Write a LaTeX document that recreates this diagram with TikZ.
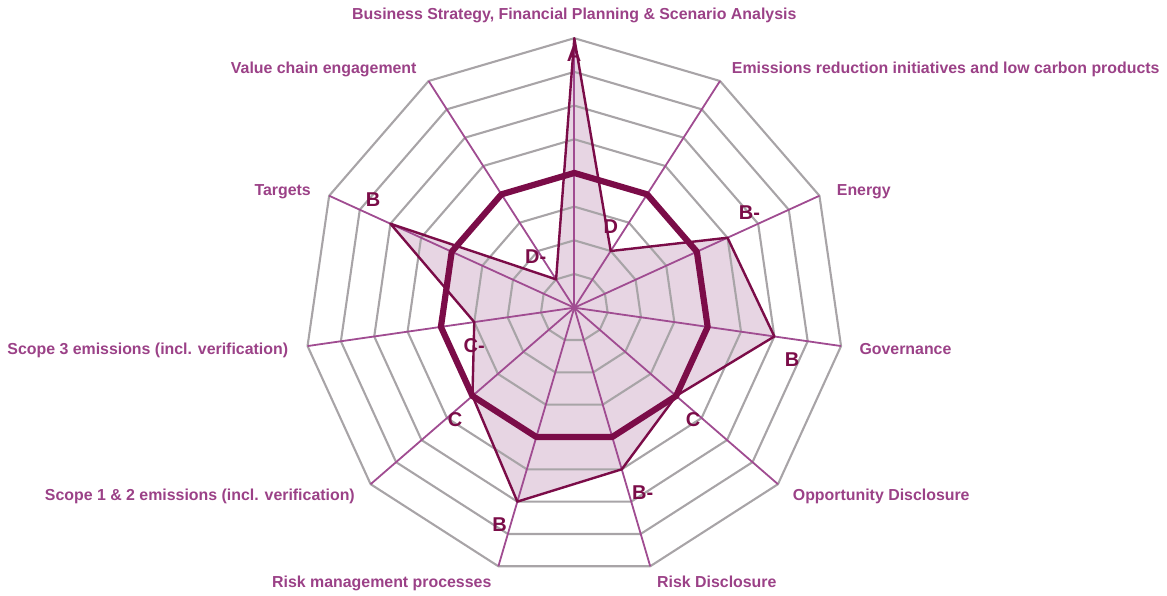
\documentclass[tikz,border=0pt]{standalone}
\usepackage{fontspec}
\setmainfont{Liberation Sans}
\usetikzlibrary{calc}
\definecolor{ringgray}{RGB}{168,164,167}
\definecolor{axiscol}{RGB}{160,76,145}
\definecolor{labelcol}{RGB}{155,65,135}
\definecolor{maroon}{RGB}{123,12,72}
\definecolor{fillpink}{RGB}{231,213,227}
\begin{document}
\begin{tikzpicture}[x=1pt,y=1pt,
  ring/.style={draw=ringgray, line width=2.1pt, line join=round},
  spoke/.style={draw=axiscol, line width=1.8pt},
  series/.style={draw=maroon, line width=2.4pt, line join=round},
  seriesfill/.style={fill=fillpink},
  bench/.style={draw=maroon, line width=6.2pt, line join=round},
  axlabel/.style={text=labelcol, font=\bfseries\fontsize{15.9}{18}\selectfont, inner sep=0pt},
  grade/.style={text=maroon, font=\bfseries\fontsize{20}{22}\selectfont, inner sep=0pt, anchor=base}]

\useasboundingbox (-574.3,-287.3) rectangle (592.7,307.7);
\def\R{269.5}
\coordinate (c) at (0,0);
\foreach \i in {0,...,10} \coordinate (o\i) at ({90-\i*360/11}:\R);
\foreach \v [count=\i from 0] in {8,2,5,6,4,5,6,4,3,6,1}
  \coordinate (p\i) at ({90-\i*360/11}:{\v*\R/8});

% filled series area
\fill[seriesfill] (p0) -- (p1) -- (p2) -- (p3) -- (p4) -- (p5) -- (p6) -- (p7) -- (p8) -- (p9) -- (p10) -- cycle;

% grid rings
\foreach \k in {1,...,8}
  \draw[ring] (90:{\k*\R/8}) \foreach \i in {1,...,10}{ -- ({90-\i*360/11}:{\k*\R/8}) } -- cycle;

% spokes
\foreach \i in {0,...,10} \draw[spoke] (c) -- (o\i);

% series outline
\draw[series] (p0) -- (p1) -- (p2) -- (p3) -- (p4) -- (p5) -- (p6) -- (p7) -- (p8) -- (p9) -- (p10) -- cycle;

% benchmark ring (level C)
\draw[bench] (90:{4*\R/8}) \foreach \i in {1,...,10}{ -- ({90-\i*360/11}:{4*\R/8}) } -- cycle;

% grade labels
\node[grade] (g0) at (-0.3,246.3) {A};
\node[grade] (g1) at (36.5,73.9) {D};
\node[grade] (g2) at (175.2,87.9) {B-};
\node[grade] (g3) at (217.7,-58.8) {B};
\node[grade] (g4) at (118.7,-118.8) {C};
\node[grade] (g5) at (68.4,-192.1) {B-};
\node[grade] (g6) at (-74.6,-223.8) {B};
\node[grade] (g7) at (-119.3,-118.8) {C};
\node[grade] (g8) at (-100.1,-44.8) {C-};
\node[grade] (g9) at (-201.3,101.2) {B};
\node[grade] (g10) at (-38.5,44.6) {D-};

% axis labels
\node[axlabel, anchor=base] (l0) at (0,288.5) {Business Strategy, Financial Planning \& Scenario Analysis};
\node[axlabel, anchor=base west] (l1) at (157.4,233.7) {Emissions reduction initiatives and low carbon products};
\node[axlabel, anchor=base west] (l2) at (262.4,112) {Energy};
\node[axlabel, anchor=base west] (l3) at (285,-46.3) {Governance};
\node[axlabel, anchor=base west] (l4) at (218.4,-192.8) {Opportunity Disclosure};
\node[axlabel, anchor=base west] (l5) at (82.7,-279.3) {Risk Disclosure};
\node[axlabel, anchor=base east] (l6) at (-82.7,-279.3) {Risk management processes};
\node[axlabel, anchor=base east] (l7) at (-219.3,-192.8) {Scope 1 \& 2 emissions (incl. verification)};
\node[axlabel, anchor=base east] (l8) at (-286,-46.3) {Scope 3 emissions (incl. verification)};
\node[axlabel, anchor=base east] (l9) at (-263.3,112) {Targets};
\node[axlabel, anchor=base east] (l10) at (-157.6,233.7) {Value chain engagement};
\end{tikzpicture}
\end{document}
